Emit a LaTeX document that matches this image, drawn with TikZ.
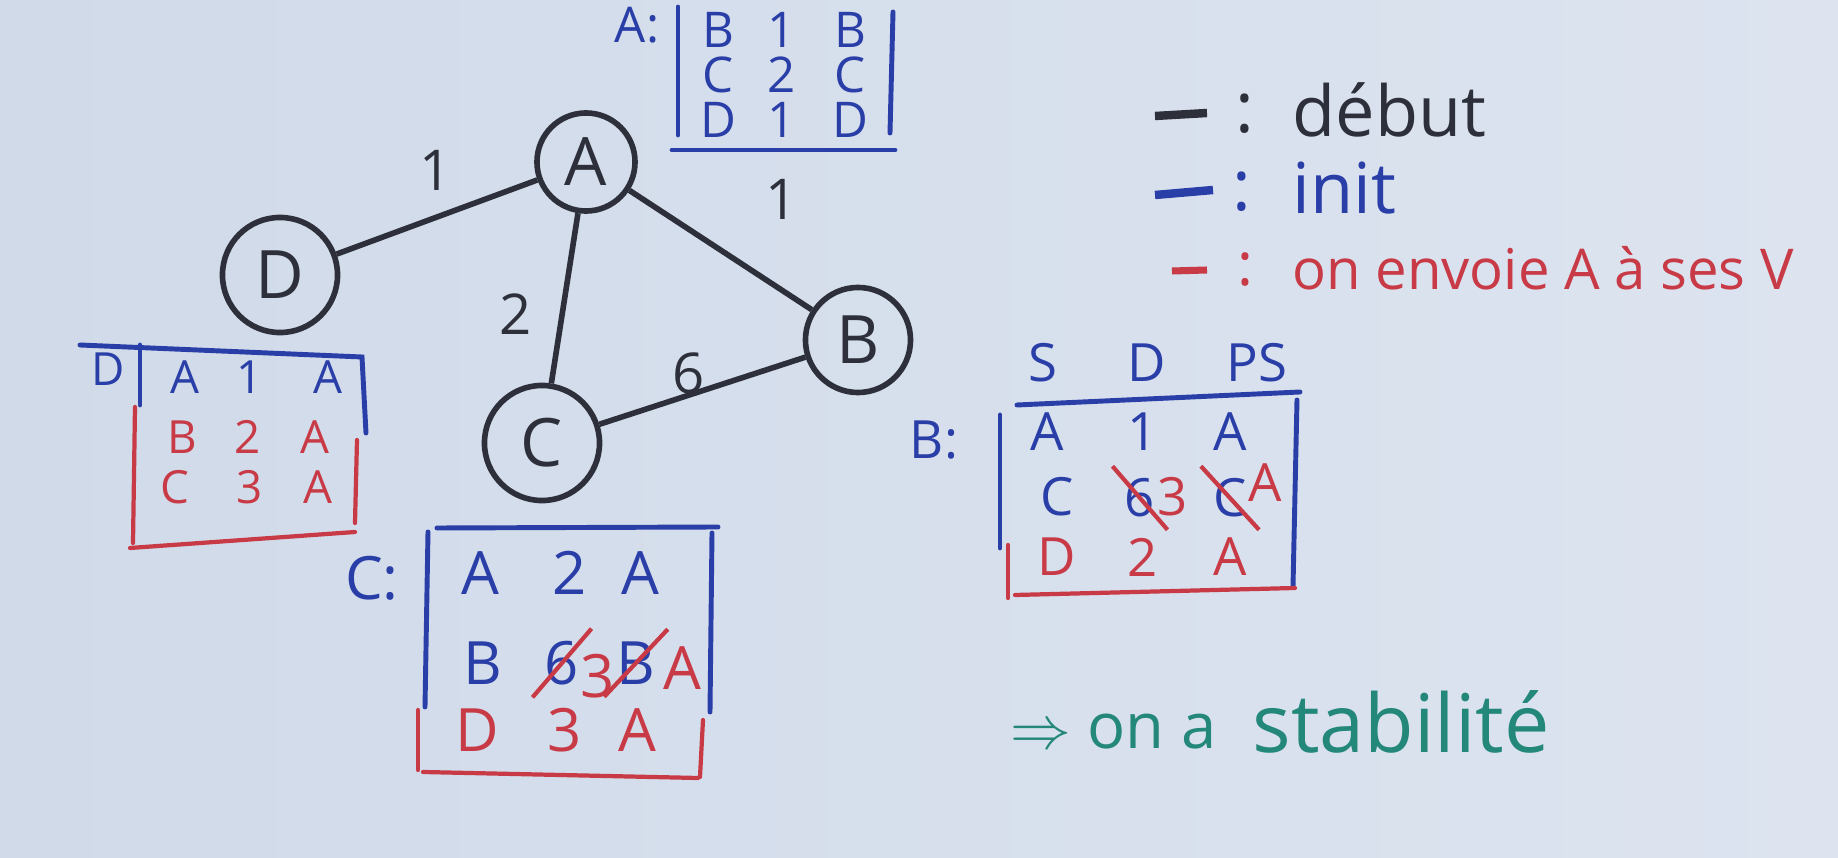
\documentclass[tikz,border=0pt]{standalone}
\usepackage{fontspec}
\setmainfont{Open Sans}
\usetikzlibrary{positioning,calc}
\definecolor{paper}{RGB}{208,218,233}
\definecolor{paperright}{RGB}{221,228,240}
\definecolor{inkblack}{RGB}{45,48,58}
\definecolor{inkblue}{RGB}{42,62,168}
\definecolor{inkred}{RGB}{200,58,70}
\definecolor{inkgreen}{RGB}{35,135,122}

\begin{document}
\begin{tikzpicture}[
            x=0.01cm, y=-0.01cm,
            vertex/.style={circle,draw=inkblack,line width=1.6pt,inner sep=0pt,text=inkblack,font=\fontsize{19}{21}\selectfont},
            edge/.style={draw=inkblack,line width=1.6pt},
            weight/.style={text=inkblack,font=\fontsize{16}{18}\selectfont},
            bluetxt/.style={text=inkblue,font=\fontsize{14}{16}\selectfont},
            redtxt/.style={text=inkred,font=\fontsize{14}{16}\selectfont},
            blueline/.style={draw=inkblue,line width=1.4pt,line cap=round},
            redline/.style={draw=inkred,line width=1.2pt,line cap=round},
            strike/.style={draw=inkred,line width=1.2pt}
        ]
            % paper
            \shade[left color=paper,right color=paperright] (0,0) rectangle (1838,858);
            \useasboundingbox (0,0) rectangle (1838,858);

            % graph
            \node[vertex,minimum size=0.98cm] (A) at (586,162) {A};
            \node[vertex,minimum size=1.15cm] (D) at (280,275) {D};
            \node[vertex,minimum size=1.05cm] (B) at (858,340) {B};
            \node[vertex,minimum size=1.15cm] (C) at (542,443) {C};
            \draw[edge] (D) -- (A);
            \draw[edge] (A) -- (B);
            \draw[edge] (A) -- (C);
            \draw[edge] (C) -- (B);
            \node[weight] (wDA) at (436,170) {1};
            \node[weight] (wAB) at (782,199) {1};
            \node[weight] (wAC) at (516,314) {2};
            \node[weight] (wCB) at (689,373) {6};

            % table of A
            \begin{scope}[bluetxt/.append style={font=\fontsize{14}{16}\selectfont}]
                \node[bluetxt] (labA) at (637,25) {A:};
                \node[bluetxt] (a11) at (718,30) {B};
                \node[bluetxt] (a12) at (782,30) {1};
                \node[bluetxt] (a13) at (850,30) {B};
                \node[bluetxt] (a21) at (718,75) {C};
                \node[bluetxt] (a22) at (782,75) {2};
                \node[bluetxt] (a23) at (850,75) {C};
                \node[bluetxt] (a31) at (718,120) {D};
                \node[bluetxt] (a32) at (782,120) {1};
                \node[bluetxt] (a33) at (850,120) {D};
            \end{scope}
            \draw[blueline] (678,7) -- (678,135);
            \draw[blueline] (893,12) -- (890,133);
            \draw[blueline] (672,150) -- (895,150);

            % table of D
            \begin{scope}[bluetxt/.append style={font=\fontsize{13}{15}\selectfont},
                          redtxt/.append style={font=\fontsize{13}{15}\selectfont}]
                \node[bluetxt] (labD) at (108,369) {D};
                \node[bluetxt] (d11) at (185,377) {A};
                \node[bluetxt] (d12) at (250,377) {1};
                \node[bluetxt] (d13) at (328,377) {A};
                \node[redtxt] (d21) at (182,437) {B};
                \node[redtxt] (d22) at (248,437) {2};
                \node[redtxt] (d23) at (315,437) {A};
                \node[redtxt] (d31) at (175,487) {C};
                \node[redtxt] (d32) at (250,487) {3};
                \node[redtxt] (d33) at (318,487) {A};
            \end{scope}
            \draw[blueline] (80,345) -- (362,357) -- (366,433);
            \draw[blueline] (140,345) -- (140,405);
            \draw[redline] (135,407) -- (133,543);
            \draw[redline] (357,440) -- (355,523);
            \draw[redline] (130,548) -- (355,532);

            % table of C
            \begin{scope}[bluetxt/.append style={font=\fontsize{17}{19}\selectfont},
                          redtxt/.append style={font=\fontsize{17}{19}\selectfont}]
                \node[bluetxt] (labC) at (372,578) {C:};
                \node[bluetxt] (c11) at (480,573) {A};
                \node[bluetxt] (c12) at (570,573) {2};
                \node[bluetxt] (c13) at (640,573) {A};
                \node[bluetxt] (c21) at (483,663) {B};
                \node[bluetxt] (c22) at (562,663) {6};
                \node[redtxt] (c22n) at (598,676) {3};
                \node[bluetxt] (c23) at (636,663) {B};
                \node[redtxt] (c23n) at (682,668) {A};
                \node[redtxt] (c31) at (477,730) {D};
                \node[redtxt] (c32) at (565,730) {3};
                \node[redtxt] (c33) at (637,730) {A};
            \end{scope}
            \draw[strike] (c22.south west) -- (c22.north east);
            \draw[strike] (c23.south west) -- (c23.north east);
            \draw[blueline] (437,528) -- (718,527);
            \draw[blueline] (428,532) -- (425,707);
            \draw[blueline] (712,533) -- (710,712);
            \draw[redline] (418,710) -- (418,770);
            \draw[redline] (703,720) -- (700,777);
            \draw[redline] (423,772) -- (698,778);

            % table of B
            \begin{scope}[bluetxt/.append style={font=\fontsize{15}{17}\selectfont},
                          redtxt/.append style={font=\fontsize{15}{17}\selectfont}]
                \node[bluetxt] (hS) at (1043,363) {S};
                \node[bluetxt] (hD) at (1147,363) {D};
                \node[bluetxt] (hPS) at (1257,363) {PS};
                \node[bluetxt] (labB) at (934,440) {B:};
                \node[bluetxt] (b11) at (1047,432) {A};
                \node[bluetxt] (b12) at (1143,432) {1};
                \node[bluetxt] (b13) at (1230,432) {A};
                \node[bluetxt] (b21) at (1057,497) {C};
                \node[bluetxt] (b22) at (1140,498) {6};
                \node[redtxt] (b22n) at (1173,497) {3};
                \node[bluetxt] (b23) at (1230,498) {C};
                \node[redtxt] (b23n) at (1265,483) {A};
                \node[redtxt] (b31) at (1057,557) {D};
                \node[redtxt] (b32) at (1143,557) {2};
                \node[redtxt] (b33) at (1230,557) {A};
            \end{scope}
            \draw[strike] (b22.north west) -- (b22.south east);
            \draw[strike] (b23.north west) -- (b23.south east);
            \draw[blueline] (1017,405) -- (1300,392);
            \draw[blueline] (1000,415) -- (1000,548);
            \draw[blueline] (1297,400) -- (1293,587);
            \draw[redline] (1008,545) -- (1008,598);
            \draw[redline] (1015,595) -- (1295,588);

            % legend
            \draw[draw=inkblack,line width=2.4pt] (1155,116) -- (1207,113);
            \node[text=inkblack,font=\fontsize{20}{22}\selectfont] (colK) at (1245,114) {:};
            \node[text=inkblack,font=\fontsize{20}{22}\selectfont,anchor=west] (legK) at (1280,110) {début};
            \draw[draw=inkblue,line width=2.4pt] (1155,195) -- (1213,190);
            \node[text=inkblue,font=\fontsize{20}{22}\selectfont] (colB) at (1242,192) {:};
            \node[text=inkblue,font=\fontsize{20}{22}\selectfont,anchor=west] (legB) at (1280,188) {init};
            \draw[draw=inkred,line width=2pt] (1172,271) -- (1207,270);
            \node[text=inkred,font=\fontsize{17}{19}\selectfont] (colR) at (1245,270) {:};
            \node[text=inkred,font=\fontsize{16}{18}\selectfont,anchor=west] (legR) at (1280,268) {on envoie A à ses V};

            % conclusion
            \node[text=inkgreen,font=\fontsize{18}{20}\selectfont,anchor=west] (concl) at (998,732) {$\Rightarrow$ on a};
            \node[text=inkgreen,font=\fontsize{23}{25}\selectfont,anchor=west] (stab) at (1240,722) {stabilité};
        \end{tikzpicture}
\end{document}
